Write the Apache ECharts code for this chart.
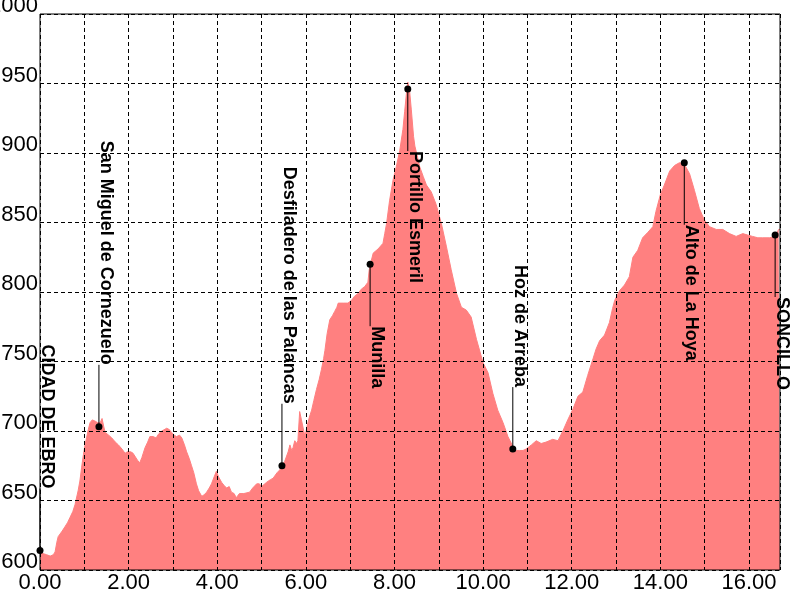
<!DOCTYPE html>
<html>
<head>
<meta charset="utf-8">
<title>Perfil</title>
<script src="https://cdn.jsdelivr.net/npm/echarts@6/dist/echarts.min.js"></script>
<style>
  html, body { margin: 0; padding: 0; background: #fff; }
  #chart { width: 800px; height: 600px; }
</style>
</head>
<body>
<div id="chart"></div>
<script>
// distance (km) and elevation (m) along the route
const kmPoints = [
  0.00, 0.05, 0.15, 0.23, 0.30, 0.34, 0.38, 0.41, 0.50, 0.56, 0.62, 0.68, 0.74, 0.79, 0.86, 0.90,
  0.94, 0.98, 1.01, 1.05, 1.09, 1.13, 1.18, 1.25, 1.30, 1.36, 1.40, 1.44, 1.47, 1.55, 1.62, 1.70,
  1.77, 1.85, 1.92, 1.97, 2.05, 2.10, 2.14, 2.20, 2.25, 2.30, 2.37, 2.43, 2.48, 2.55, 2.62, 2.68,
  2.75, 2.86, 2.92, 2.97, 3.03, 3.08, 3.15, 3.20, 3.26, 3.31, 3.37, 3.42, 3.47, 3.53, 3.58, 3.65,
  3.70, 3.76, 3.82, 3.87, 3.93, 3.98, 4.03, 4.10, 4.15, 4.21, 4.27, 4.32, 4.38, 4.43, 4.50, 4.60,
  4.73, 4.80, 4.89, 4.95, 5.00, 5.11, 5.20, 5.26, 5.35, 5.41, 5.46, 5.52, 5.56, 5.60, 5.64, 5.68,
  5.71, 5.75, 5.79, 5.82, 5.86, 5.90, 5.94, 5.98, 6.03, 6.08, 6.13, 6.18, 6.24, 6.30, 6.35, 6.40,
  6.43, 6.48, 6.54, 6.60, 6.65, 6.70, 6.73, 6.85, 6.95, 7.03, 7.10, 7.18, 7.25, 7.33, 7.40, 7.43,
  7.48, 7.52, 7.63, 7.74, 7.78, 7.82, 7.89, 7.97, 8.04, 8.12, 8.19, 8.23, 8.27, 8.30, 8.34, 8.38,
  8.43, 8.46, 8.52, 8.57, 8.65, 8.72, 8.83, 8.94, 9.06, 9.17, 9.28, 9.40, 9.51, 9.62, 9.73, 9.85,
  10.00, 10.11, 10.22, 10.33, 10.45, 10.56, 10.67, 10.75, 10.82, 10.90, 10.97, 11.09, 11.20, 11.31, 11.42, 11.57,
  11.69, 11.80, 11.91, 12.03, 12.14, 12.25, 12.36, 12.48, 12.55, 12.63, 12.74, 12.85, 12.92, 12.97, 13.08, 13.19,
  13.30, 13.38, 13.49, 13.60, 13.72, 13.83, 13.90, 14.00, 14.09, 14.21, 14.32, 14.43, 14.54, 14.66, 14.77, 14.88,
  14.99, 15.11, 15.26, 15.41, 15.56, 15.71, 15.86, 15.97, 16.08, 16.20, 16.31, 16.46, 16.59, 16.67, 16.70
];
const elevations = [
  614, 612, 611, 610, 611, 613, 620, 624, 628, 631, 634, 638, 642, 647, 657, 664,
  674, 683, 689, 695, 701, 706, 708, 707, 706, 706, 709, 703, 699, 697, 695, 692,
  690, 687, 684, 685, 685, 684, 682, 679, 677, 681, 688, 692, 696, 696, 695, 698,
  700, 702, 701, 699, 697, 696, 697, 695, 690, 685, 680, 675, 670, 662, 657, 653,
  654, 656, 659, 662, 667, 671, 667, 663, 661, 659, 660, 656, 655, 652, 655, 655,
  656, 659, 662, 662, 660, 663, 665, 666, 670, 672, 675, 678, 679, 685, 690, 686,
  688, 693, 691, 693, 714, 708, 707, 696, 704, 710, 715, 722, 730, 737, 744, 752,
  758, 770, 780, 783, 786, 789, 792, 792, 792, 794, 797, 799, 802, 804, 807, 816,
  823, 828, 831, 835, 842, 849, 866, 881, 890, 902, 917, 930, 943, 951, 945, 931,
  912, 905, 897, 890, 883, 877, 872, 863, 849, 833, 816, 799, 789, 787, 782, 766,
  749, 742, 727, 715, 706, 696, 689, 686, 686, 686, 687, 690, 693, 691, 692, 694,
  693, 700, 708, 716, 725, 728, 740, 752, 759, 765, 769, 778, 788, 794, 801, 805,
  811, 825, 830, 839, 843, 847, 858, 870, 877, 887, 891, 893, 892, 885, 873, 860,
  852, 847, 845, 845, 842, 840, 842, 841, 840, 839, 839, 839, 840, 845, 845
];

// named points on the route
const placeNames = ["CIDAD DE EBRO", "San Miguel de Cornezuelo", "Desfiladero de las Palancas", "Munilla",
  "Portillo Esmeril", "Hoz de Arreba", "Alto de La Hoya", "SONCILLO"];
const placeKm = [0.00, 1.33, 5.46, 7.45, 8.30, 10.67, 14.54, 16.59];
const placeElev = [614, 703, 675, 820, 946, 687, 893, 841];
// -1 = label above the point, 1 = label below
const placeSide = [-1, -1, -1, 1, 1, -1, 1, 1];

// axis ranges
const kmMax = 16.7;
const elevMin = 600;
const elevMax = 1000;
const elevStep = 50;

(function () {
    const myChart = echarts.init(document.getElementById("chart"));

    const profile = kmPoints.map(function (km, i) { return [km, elevations[i]]; });
    const places = placeKm.map(function (km, i) { return [km, placeElev[i], i]; });

    const gridLine = { lineStyle: { color: "#000", width: 1, type: [4, 3] } };
    const labelFont = { color: "#000", fontFamily: "Liberation Sans, Arial, sans-serif", fontSize: 22 };

    const option = {
        backgroundColor: "#fff",
        animation: false,
        grid: {
            left: 40, right: 20, top: 14, bottom: 30,
            containLabel: false,
            outerBoundsMode: "none",
            show: true,
            borderColor: "#000",
            borderWidth: 1,
            backgroundColor: "transparent",
            z: 3
        },
        xAxis: {
            type: "value",
            min: 0,
            max: kmMax,
            interval: 1,
            z: 3,
            axisLine: { show: false },
            axisTick: { show: false },
            splitLine: gridLine,
            axisLabel: Object.assign({
                margin: 2,
                formatter: function (v) {
                    return (Math.abs(v % 2) < 1e-9) ? v.toFixed(2) : "";
                }
            }, labelFont)
        },
        yAxis: {
            type: "value",
            min: elevMin,
            max: elevMax,
            interval: elevStep,
            z: 3,
            axisLine: { show: false },
            axisTick: { show: false },
            splitLine: gridLine,
            axisLabel: Object.assign({
                margin: 2,
                verticalAlign: "bottom",
                lineHeight: 16,
                formatter: function (v) { return String(v); }
            }, labelFont)
        },
        series: [
            {
                type: "line",
                data: profile,
                symbol: "none",
                z: 2,
                lineStyle: { color: "#ff8080", width: 1 },
                areaStyle: { color: "#ff8080", opacity: 1 }
            },
            {
                // marker, leader line and vertical name for each place
                type: "custom",
                data: places,
                z: 10,
                renderItem: function (params, api) {
                    const p = api.coord([api.value(0), api.value(1)]);
                    const idx = api.value(2);
                    const side = placeSide[idx];
                    const end = p[1] + side * 62;
                    return {
                        type: "group",
                        children: [
                            {
                                type: "line",
                                shape: { x1: p[0], y1: p[1], x2: p[0], y2: end },
                                style: { stroke: "#000", lineWidth: 1 }
                            },
                            {
                                type: "circle",
                                shape: { cx: p[0], cy: p[1], r: 3.5 },
                                style: { fill: "#000" }
                            },
                            {
                                type: "text",
                                x: p[0] - 2,
                                y: end,
                                rotation: -Math.PI / 2,
                                style: {
                                    text: placeNames[idx],
                                    font: "bold 18px Liberation Sans, Arial, sans-serif",
                                    fill: "#000",
                                    align: side > 0 ? "left" : "right",
                                    verticalAlign: "bottom"
                                }
                            }
                        ]
                    };
                }
            }
        ]
    };

    myChart.setOption(option);

    window.addEventListener("resize", function () {
        myChart.resize();
    });
})();
</script>
</body>
</html>
